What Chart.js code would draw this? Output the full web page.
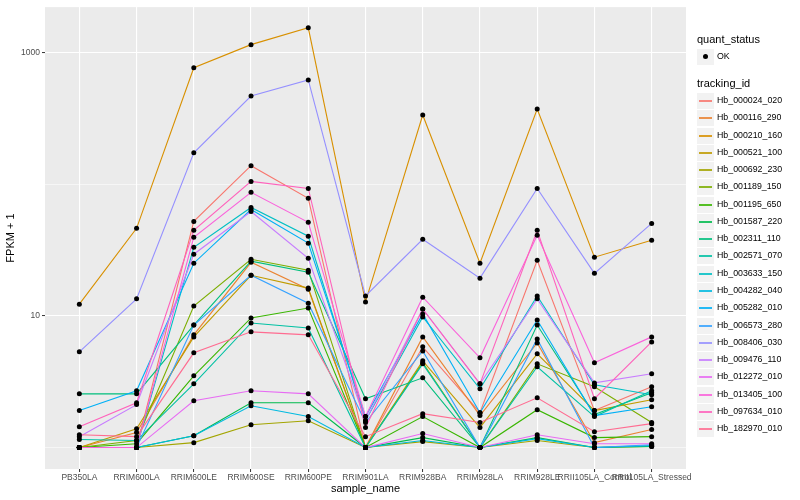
<!DOCTYPE html>
<html>
<head>
<meta charset="utf-8">
<script src="https://cdn.jsdelivr.net/npm/chart.js@4/dist/chart.umd.min.js"></script>
<style>
  body { margin: 0; background: #fff; font-family: 'Liberation Sans', Arial, sans-serif; }
  #wrap { position: relative; width: 800px; height: 500px; }
  #legend { position: absolute; left: 697px; top: 0; width: 103px; height: 500px; }
  .ttl { position: absolute; left: 0; font-size: 11px; color: #000; white-space: nowrap; }
  .row { position: absolute; left: 0; height: 17px; }
  .key { position: absolute; left: 0; top: 0; width: 17px; height: 16px; background: #F2F2F2; }
  .key i { position: absolute; left: 2px; right: 2px; top: 7px; height: 2px; opacity: 0.85; }
  .key b { position: absolute; left: 6px; top: 5px; width: 5px; height: 5px; border-radius: 50%; background: #000; }
  .lab { position: absolute; left: 20px; top: 2px; font-size: 8.8px; color: #000; white-space: nowrap; }
</style>
</head>
<body>
<div id="wrap">
  <canvas id="chart" width="800" height="500"></canvas>
  <div id="legend"></div>
</div>
<script>
// categorias do eixo x
const sampleNames = ['PB350LA', 'RRIM600LA', 'RRIM600LE', 'RRIM600SE', 'RRIM600PE', 'RRIM901LA',
  'RRIM928BA', 'RRIM928LA', 'RRIM928LE', 'RRII105LA_Control', 'RRII105LA_Stressed'];

const trackingIds = ['Hb_000024_020', 'Hb_000116_290', 'Hb_000210_160', 'Hb_000521_100', 'Hb_000692_230',
  'Hb_001189_150', 'Hb_001195_650', 'Hb_001587_220', 'Hb_002311_110', 'Hb_002571_070',
  'Hb_003633_150', 'Hb_004282_040', 'Hb_005282_010', 'Hb_006573_280', 'Hb_008406_030',
  'Hb_009476_110', 'Hb_012272_010', 'Hb_013405_100', 'Hb_097634_010', 'Hb_182970_010'];

const seriesColors = ['#F8766D', '#EA8331', '#D89000', '#C09B00', '#A3A500', '#7CAE00', '#39B600', '#00BB4E',
  '#00BF7D', '#00C1A3', '#00BFC4', '#00BAE0', '#00B0F6', '#35A2FF', '#9590FF', '#C77CFF',
  '#E76BF3', '#FA62DB', '#FF62BC', '#FF6C91'];

// FPKM + 1 por amostra (mesma ordem de sampleNames)
const hb000024_020 = [1, 1, 52.4, 139, 78.4, 1, 5.83, 1.84, 26.5, 1.91, 2.9];
const hb000116_290 = [1, 1.30, 7.19, 25.6, 16.0, 1, 6.94, 1.75, 6.24, 1.09, 1.37];
const hb000210_160 = [12.3, 46.4, 771, 1156, 1552, 12.8, 337, 25.2, 374, 28.0, 37.7];
const hb000521_100 = [1, 1.39, 6.94, 20.4, 16.3, 1, 4.56, 1.42, 5.16, 1.91, 2.31];
const hb000692_230 = [1, 1, 1.09, 1.49, 1.60, 1, 1.11, 1, 1.13, 1, 1.02];
const hb001189_150 = [1, 1.13, 11.9, 27.0, 22.3, 1, 4.41, 1, 4.33, 2.9, 1.55];
const hb001195_650 = [1, 1.07, 3.51, 9.66, 11.5, 1, 1.72, 1, 1.94, 1.19, 1.21];
const hb001587_220 = [1, 1, 1.23, 2.19, 2.19, 1, 1.19, 1, 1.19, 1, 1.02];
const hb002311_110 = [2.56, 2.56, 8.54, 26.1, 21.5, 2.35, 3.39, 1, 8.54, 1.78, 2.61];
const hb002571_070 = [1.15, 1.13, 3.05, 8.85, 8.12, 1, 4.33, 1, 4.11, 1.72, 2.7];
const hb003633_150 = [1, 1, 33.3, 66.8, 40.4, 1.60, 9.83, 2.80, 14.2, 3.0, 2.52];
const hb004282_040 = [1, 1, 1.23, 2.08, 1.72, 1, 1.13, 1, 1.17, 1, 1.035];
const hb005282_010 = [1.91, 2.70, 25.2, 64.5, 35.8, 1.72, 10.36, 1.84, 9.32, 1.75, 2.04];
const hb006573_280 = [1, 1, 8.54, 20.4, 12.5, 1.55, 5.43, 1, 6.69, 1, 1.05];
const hb008406_030 = [5.34, 13.5, 174, 470, 623, 14.2, 38.3, 19.4, 93.2, 21.1, 50.6];
const hb009476_110 = [1.21, 2.12, 29.5, 62.3, 27.5, 1.60, 11.3, 3.05, 13.5, 3.10, 3.64];
const hb012272_010 = [1, 1, 2.27, 2.70, 2.56, 1, 1.28, 1, 1.25, 1.07, 1.07];
const hb013405_100 = [1, 1, 39.7, 87.1, 51.5, 1.72, 13.9, 4.81, 41.1, 4.41, 6.94];
const hb097634_010 = [1.44, 2.19, 44.8, 105.5, 93.2, 1.42, 11.3, 3.05, 44.8, 2.35, 6.35];
const hb182970_010 = [1.25, 1.21, 5.25, 7.58, 7.19, 1.21, 1.81, 1.55, 2.39, 1.32, 1.52];

const yTickValues = [1, 10, 100, 1000];
const yTickLabels = ['', '10', '', '1000'];

const series = [hb000024_020, hb000116_290, hb000210_160, hb000521_100, hb000692_230,
  hb001189_150, hb001195_650, hb001587_220, hb002311_110, hb002571_070,
  hb003633_150, hb004282_040, hb005282_010, hb006573_280, hb008406_030,
  hb009476_110, hb012272_010, hb013405_100, hb097634_010, hb182970_010];

const FONT = "'Liberation Sans', Arial, sans-serif";

// fundo cinza do painel (estilo ggplot)
const panelBg = {
  id: 'panelBg',
  beforeDraw(chart) {
    const { ctx, chartArea: a } = chart;
    ctx.save();
    ctx.fillStyle = '#EBEBEB';
    ctx.fillRect(a.left, a.top, a.right - a.left, a.bottom - a.top);
    ctx.restore();
  }
};

// pontos pretos por cima de todas as linhas
const allPoints = [];
series.forEach(vals => vals.forEach((v, i) => allPoints.push({ x: i, y: v })));

const datasets = [{
  label: 'OK',
  data: allPoints,
  showLine: false,
  pointRadius: 2.5,
  pointBackgroundColor: '#000',
  pointBorderWidth: 0
}];
// o primeiro dataset fica por cima, então as linhas entram em ordem inversa
for (let s = series.length - 1; s >= 0; s--) {
  datasets.push({
    label: trackingIds[s],
    data: series[s].map((v, i) => ({ x: i, y: v })),
    borderColor: seriesColors[s],
    borderWidth: 1.1,
    pointRadius: 0,
    tension: 0,
    fill: false
  });
}

const isMajor = v => v === 10 || v === 1000;

new Chart(document.getElementById('chart'), {
  type: 'line',
  data: { datasets },
  plugins: [panelBg],
  options: {
    responsive: false,
    animation: false,
    layout: { padding: { top: 5, right: 114, left: 0, bottom: 0 } },
    plugins: { legend: { display: false }, tooltip: { enabled: false } },
    scales: {
      x: {
        type: 'linear',
        min: -0.6,
        max: 10.6,
        afterBuildTicks: s => { s.ticks = sampleNames.map((_, i) => ({ value: i })); },
        afterFit: s => { s.height = 31; },
        ticks: {
          autoSkip: false, maxRotation: 0, minRotation: 0, padding: 1,
          color: '#4D4D4D', font: { family: FONT, size: 8.5 },
          callback: v => sampleNames[v]
        },
        grid: { color: '#FFFFFF', lineWidth: 1.1, tickLength: 3, tickColor: '#333333', tickWidth: 1 },
        border: { display: false },
        title: { display: true, text: 'sample_name', color: '#000', font: { family: FONT, size: 11 }, padding: { top: 0, bottom: 4 } }
      },
      y: {
        type: 'logarithmic',
        min: 0.687,
        max: 2230,
        afterBuildTicks: s => { s.ticks = yTickValues.map(v => ({ value: v })); },
        afterFit: s => { s.width = 45; },
        ticks: {
          padding: 2, color: '#4D4D4D', font: { family: FONT, size: 8.5 },
          callback: v => yTickLabels[yTickValues.indexOf(v)]
        },
        grid: {
          color: '#FFFFFF',
          lineWidth: c => (c.tick && isMajor(c.tick.value)) ? 1.1 : 0.55,
          tickLength: 3,
          tickColor: c => (c.tick && isMajor(c.tick.value)) ? '#333333' : 'rgba(0,0,0,0)',
          tickWidth: 1
        },
        border: { display: false },
        title: { display: true, text: 'FPKM + 1', color: '#000', font: { family: FONT, size: 11 }, padding: { top: 4, bottom: 0 } }
      }
    }
  }
});

// legenda montada à mão (duas seções, como no ggplot)
const legend = document.getElementById('legend');
function add(html) { legend.insertAdjacentHTML('beforeend', html); }
add('<div class="ttl" style="top:33px">quant_status</div>');
add('<div class="row" style="top:49px"><div class="key"><b></b></div><div class="lab">OK</div></div>');
add('<div class="ttl" style="top:77px">tracking_id</div>');
trackingIds.forEach((id, i) => {
  const top = Math.round(93 + i * 17.27);
  add(`<div class="row" style="top:${top}px"><div class="key"><i style="background:${seriesColors[i]}"></i></div><div class="lab">${id}</div></div>`);
});
</script>
</body>
</html>
